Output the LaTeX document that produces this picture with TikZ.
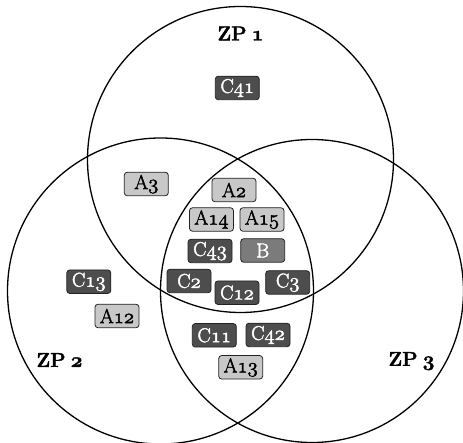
\documentclass[tikz,border=0pt]{standalone}
\definecolor{darkbox}{HTML}{4D4D4D}
\definecolor{lightbox}{HTML}{C8C8C8}
\definecolor{midbox}{HTML}{7B7B7B}
\definecolor{boxline}{HTML}{222222}
\newcommand{\osn}[1]{{\fontsize{21.5}{22}\usefont{OML}{cmm}{m}{it}#1}}
\newcommand{\osb}[1]{{\fontsize{21}{22}\usefont{OML}{cmm}{b}{it}#1}}
\newcommand{\heavytext}[2]{\special{pdf:code 2 Tr #1 w}#2\special{pdf:code 0 Tr}}
\begin{document}
\begin{tikzpicture}[x=1pt,y=-1pt,
  zone/.style={draw=black,line width=1.3pt},
  box/.style={draw=boxline,line width=0.8pt,rounded corners=3pt,minimum width=44pt,minimum height=23.5pt,inner sep=0pt,font=\fontsize{20}{22}\selectfont},
  darkb/.style={box,fill=darkbox,text=white},
  lightb/.style={box,fill=lightbox,text=black},
  midb/.style={box,fill=midbox,text=white},
  zplabel/.style={font=\fontsize{20}{22}\selectfont\bfseries}]
\useasboundingbox (0,0) rectangle (463,443);
\begin{scope}
\clip (0,0) rectangle (463,443);
\draw[zone] (240.5,159.5) circle[radius=153];
\draw[zone] (160.5,291) circle[radius=153];
\draw[zone] (312,291) circle[radius=151.5];
\end{scope}
\node[zplabel] (zp1) at (240.5,33.5) {\heavytext{0.3}{ZP\hspace{5pt}\osb{1}}};
\node[zplabel] (zp2) at (59.5,360) {\heavytext{0.3}{ZP\hspace{5pt}\osb{2}}};
\node[zplabel] (zp3) at (411.5,361) {\heavytext{0.3}{ZP\hspace{5pt}\osb{3}}};
\node[darkb] (c41) at (237.3,88) {\heavytext{0.4}{C\osn{41}}};
\node[lightb] (a3) at (146.3,184) {\heavytext{0.4}{A\osn{3}}};
\node[lightb] (a2) at (234,190) {\heavytext{0.4}{A\osn{2}}};
\node[lightb] (a14) at (211.5,219.5) {\heavytext{0.4}{A\osn{14}}};
\node[lightb] (a15) at (262,219.5) {\heavytext{0.4}{A\osn{15}}};
\node[darkb] (c43) at (210,251) {\heavytext{0.4}{C\osn{43}}};
\node[midb] (b) at (262.7,250.5) {\heavytext{0.4}{B}};
\node[darkb] (c2) at (189,281) {\heavytext{0.4}{C\osn{2}}};
\node[darkb] (c12) at (237,292.7) {\heavytext{0.4}{C\osn{12}}};
\node[darkb] (c3) at (287.7,282.5) {\heavytext{0.4}{C\osn{3}}};
\node[darkb] (c13) at (88.8,281.7) {\heavytext{0.4}{C\osn{13}}};
\node[lightb] (a12) at (117,316) {\heavytext{0.4}{A\osn{12}}};
\node[darkb] (c11) at (214.3,335.3) {\heavytext{0.4}{C\osn{11}}};
\node[darkb] (c42) at (268,335) {\heavytext{0.4}{C\osn{42}}};
\node[lightb] (a13) at (240.7,367.3) {\heavytext{0.4}{A\osn{13}}};
\end{tikzpicture}
\end{document}
